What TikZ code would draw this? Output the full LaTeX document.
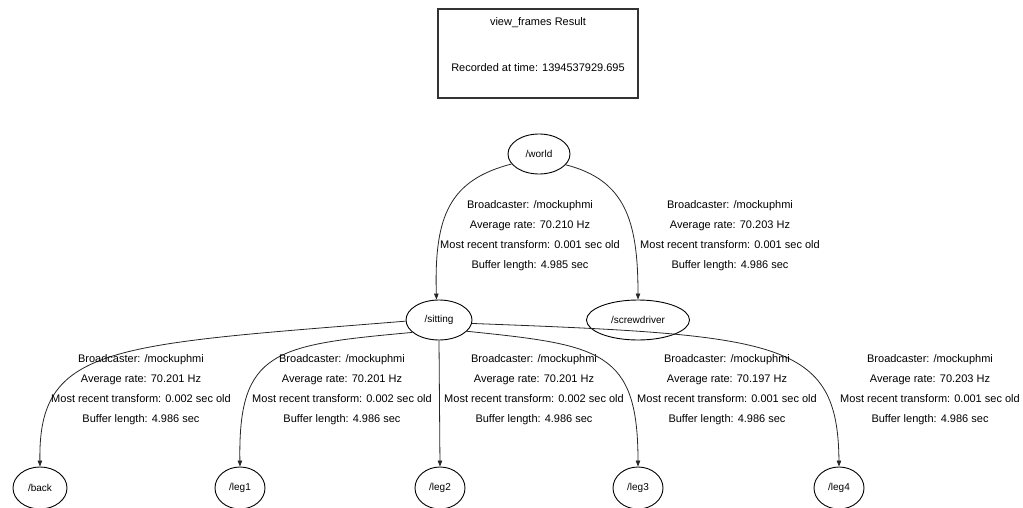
\documentclass[tikz,border=0pt]{standalone}
\usepackage{fontspec}
\setmainfont{Liberation Sans}
\usetikzlibrary{arrows.meta,shapes.geometric}
\tikzset{
  frame/.style={ellipse, draw=black, line width=0.9pt, inner sep=0pt, minimum height=40pt},
  edge/.style={draw=black!85, line width=0.8pt, -{Triangle[length=6pt,width=4.5pt]}},
  lbl/.style={align=center, inner sep=0pt, font=\fontsize{11}{20}\selectfont},
  ttl/.style={inner sep=0pt, font=\fontsize{11}{13}\selectfont},
}
\begin{document}
\begin{tikzpicture}[x=1pt,y=-1pt]
\useasboundingbox (0,0) rectangle (1023,508);
% title box
\node[draw=black!80, line width=1.8pt, minimum width=200pt, minimum height=89pt, inner sep=0pt] (title) at (538,53.5) {};
\node[ttl] (t1) at (538,23) {view\_frames Result};
\node[ttl] (t2) at (538,68) {Recorded at time: 1394537929.695};
% frames
\node[frame, minimum width=62pt] (world) at (539,154) {/world};
\node[frame, minimum width=66pt] (sitting) at (439,320) {/sitting};
\node[frame, minimum width=103pt] (screw) at (638,320) {/screwdriver};
\node[frame, minimum width=54pt, minimum height=42pt] (back) at (40,488) {/back};
\node[frame, minimum width=50pt, minimum height=42pt] (leg1) at (240,488) {/leg1};
\node[frame, minimum width=50pt, minimum height=42pt] (leg2) at (440,488) {/leg2};
\node[frame, minimum width=50pt, minimum height=42pt] (leg3) at (638,488) {/leg3};
\node[frame, minimum width=50pt, minimum height=42pt] (leg4) at (839,488) {/leg4};
% edges
\draw[edge] (world.200) .. controls (450,180) and (434,215) .. (sitting.97);
\draw[edge] (world.-22) .. controls (625,180) and (638,220) .. (screw.north);
\draw[edge] (sitting.182) .. controls (110,345) and (38,345) .. (back.north);
\draw[edge] (sitting.205) .. controls (275,345) and (238,350) .. (leg1.north);
\draw[edge] (sitting.south) -- (leg2.north);
\draw[edge] (sitting.-22) .. controls (600,345) and (638,350) .. (leg3.north);
\draw[edge] (sitting.-6) .. controls (780,335) and (838,340) .. (leg4.north);
% labels
\node[lbl] (l1) at (530,236) {Broadcaster: /mockuphmi\\Average rate: 70.210 Hz\\Most recent transform: 0.001 sec old\\Buffer length: 4.985 sec};
\node[lbl] (l2) at (730,236) {Broadcaster: /mockuphmi\\Average rate: 70.203 Hz\\Most recent transform: 0.001 sec old\\Buffer length: 4.986 sec};
\node[lbl] (l3) at (141,390) {Broadcaster: /mockuphmi\\Average rate: 70.201 Hz\\Most recent transform: 0.002 sec old\\Buffer length: 4.986 sec};
\node[lbl] (l4) at (342,390) {Broadcaster: /mockuphmi\\Average rate: 70.201 Hz\\Most recent transform: 0.002 sec old\\Buffer length: 4.986 sec};
\node[lbl] (l5) at (534,390) {Broadcaster: /mockuphmi\\Average rate: 70.201 Hz\\Most recent transform: 0.002 sec old\\Buffer length: 4.986 sec};
\node[lbl] (l6) at (727,390) {Broadcaster: /mockuphmi\\Average rate: 70.197 Hz\\Most recent transform: 0.001 sec old\\Buffer length: 4.986 sec};
\node[lbl] (l7) at (930,390) {Broadcaster: /mockuphmi\\Average rate: 70.203 Hz\\Most recent transform: 0.001 sec old\\Buffer length: 4.986 sec};
\end{tikzpicture}
\end{document}
